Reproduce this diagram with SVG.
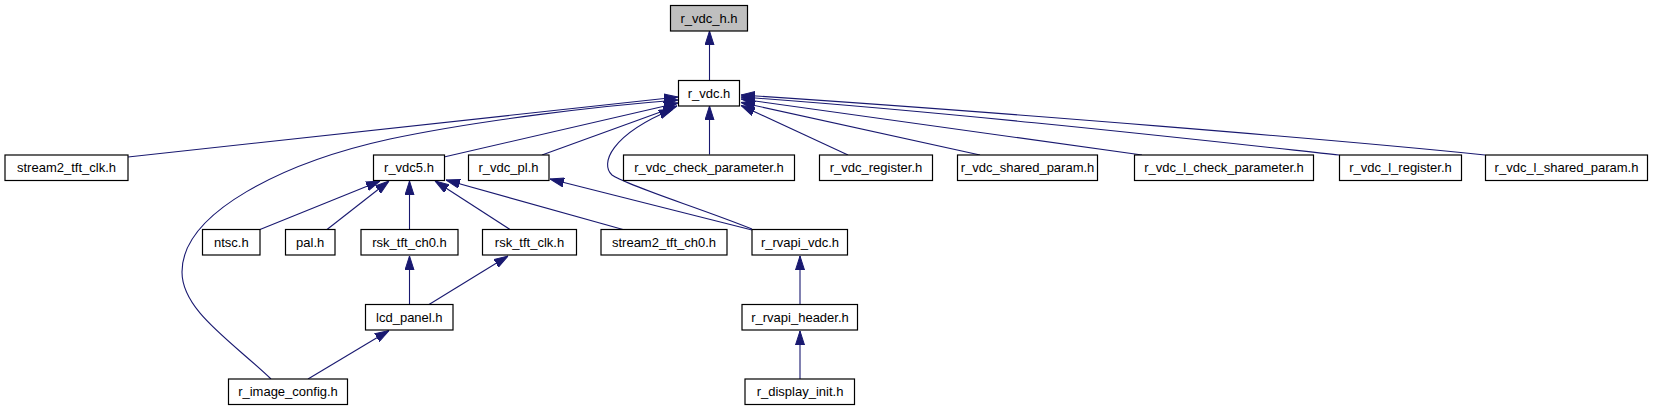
<svg xmlns="http://www.w3.org/2000/svg" width="1653" height="411" viewBox="0 0 1653 411">
<style>
.node rect{fill:#fff;stroke:#000;stroke-width:1.2}
.node.root rect{fill:#bfbfbf}
.node text{font-family:"Liberation Sans",Arial,sans-serif;font-size:13px;fill:#000;text-anchor:middle}
.edges path{fill:none;stroke:#191970;stroke-width:1.1;marker-end:url(#arr)}
</style>
<defs>
<marker id="arr" viewBox="0 0 14 10" refX="14" refY="5" markerWidth="14" markerHeight="10" markerUnits="userSpaceOnUse" orient="auto">
<path d="M0,0.5 L14,5 L0,9.5 z" fill="#191970" stroke="#191970" stroke-width="1"/>
</marker>
</defs>
<rect width="1653" height="411" fill="#fff"/>
<g class="edges" id="edges">
<path d="M709.5,80.5 L709.5,31"/>
<path d="M709.5,154.5 L709.5,106"/>
<path d="M128,157 L678,97"/>
<path d="M271,379 C230,340 182,310 182,272 C182,212 285,162 390,139 C480,120 600,106 678,100"/>
<path d="M444,157 L678,103"/>
<path d="M542,155 L677,106"/>
<path d="M752,229 C700,208 625,185 612,175 C600,164 610,135 673,109"/>
<path d="M848,155 L741,105.5"/>
<path d="M980,155 L741,102.5"/>
<path d="M1142,155 L741,99"/>
<path d="M1339,155 C1200,140 950,112 741,97"/>
<path d="M1485,155 C1350,141 1000,112 741,95"/>
<path d="M260,229.5 L380,181"/>
<path d="M327,229.5 L389,181"/>
<path d="M409.5,229.5 L409.5,181"/>
<path d="M510,229.5 L435,181"/>
<path d="M623,229.5 L446,180"/>
<path d="M752,230 L550,179"/>
<path d="M409.5,304.5 L409.5,256"/>
<path d="M429,304.5 L508,256"/>
<path d="M308,379 L389,330.5"/>
<path d="M800,305 L800,256"/>
<path d="M800,379 L800,331"/>
</g>
<g id="n_r_vdc_h" class="node root"><rect x="670.5" y="5.5" width="77" height="25.5"/><text x="709" y="22.5">r_vdc_h.h</text></g>
<g id="n_r_vdc" class="node"><rect x="678.5" y="80.5" width="61" height="25.5"/><text x="709" y="97.5">r_vdc.h</text></g>
<g id="n_stream2_tft_clk" class="node"><rect x="5" y="155" width="123" height="25.5"/><text x="66.5" y="172">stream2_tft_clk.h</text></g>
<g id="n_r_vdc5" class="node"><rect x="373.5" y="155" width="71" height="25.5"/><text x="409" y="172">r_vdc5.h</text></g>
<g id="n_r_vdc_pl" class="node"><rect x="468.5" y="155" width="80.5" height="25.5"/><text x="508.5" y="172">r_vdc_pl.h</text></g>
<g id="n_r_vdc_check_parameter" class="node"><rect x="623.5" y="155" width="171" height="25.5"/><text x="709" y="172">r_vdc_check_parameter.h</text></g>
<g id="n_r_vdc_register" class="node"><rect x="819.5" y="155" width="113" height="25.5"/><text x="876" y="172">r_vdc_register.h</text></g>
<g id="n_r_vdc_shared_param" class="node"><rect x="957.5" y="155" width="140" height="25.5"/><text x="1027.5" y="172">r_vdc_shared_param.h</text></g>
<g id="n_r_vdc_l_check_parameter" class="node"><rect x="1134.5" y="155" width="179" height="25.5"/><text x="1224" y="172">r_vdc_l_check_parameter.h</text></g>
<g id="n_r_vdc_l_register" class="node"><rect x="1339.5" y="155" width="122" height="25.5"/><text x="1400.5" y="172">r_vdc_l_register.h</text></g>
<g id="n_r_vdc_l_shared_param" class="node"><rect x="1485.5" y="155" width="162" height="25.5"/><text x="1566.5" y="172">r_vdc_l_shared_param.h</text></g>
<g id="n_ntsc" class="node"><rect x="202.5" y="229.5" width="57.5" height="25.5"/><text x="231.3" y="246.5">ntsc.h</text></g>
<g id="n_pal" class="node"><rect x="285.5" y="229.5" width="49.5" height="25.5"/><text x="310.2" y="246.5">pal.h</text></g>
<g id="n_rsk_tft_ch0" class="node"><rect x="361" y="229.5" width="97" height="25.5"/><text x="409.5" y="246.5">rsk_tft_ch0.h</text></g>
<g id="n_rsk_tft_clk" class="node"><rect x="482.5" y="229.5" width="94" height="25.5"/><text x="529.5" y="246.5">rsk_tft_clk.h</text></g>
<g id="n_stream2_tft_ch0" class="node"><rect x="601" y="229.5" width="126" height="25.5"/><text x="664" y="246.5">stream2_tft_ch0.h</text></g>
<g id="n_r_rvapi_vdc" class="node"><rect x="752" y="229.5" width="95.5" height="25.5"/><text x="800" y="246.5">r_rvapi_vdc.h</text></g>
<g id="n_lcd_panel" class="node"><rect x="365.5" y="304.5" width="87.5" height="25.5"/><text x="409.3" y="321.5">lcd_panel.h</text></g>
<g id="n_r_rvapi_header" class="node"><rect x="742" y="304.5" width="115.5" height="25.5"/><text x="800" y="321.5">r_rvapi_header.h</text></g>
<g id="n_r_image_config" class="node"><rect x="228.5" y="379" width="119" height="25.5"/><text x="288" y="396">r_image_config.h</text></g>
<g id="n_r_display_init" class="node"><rect x="745" y="379" width="109.5" height="25.5"/><text x="800" y="396">r_display_init.h</text></g>
</svg>
